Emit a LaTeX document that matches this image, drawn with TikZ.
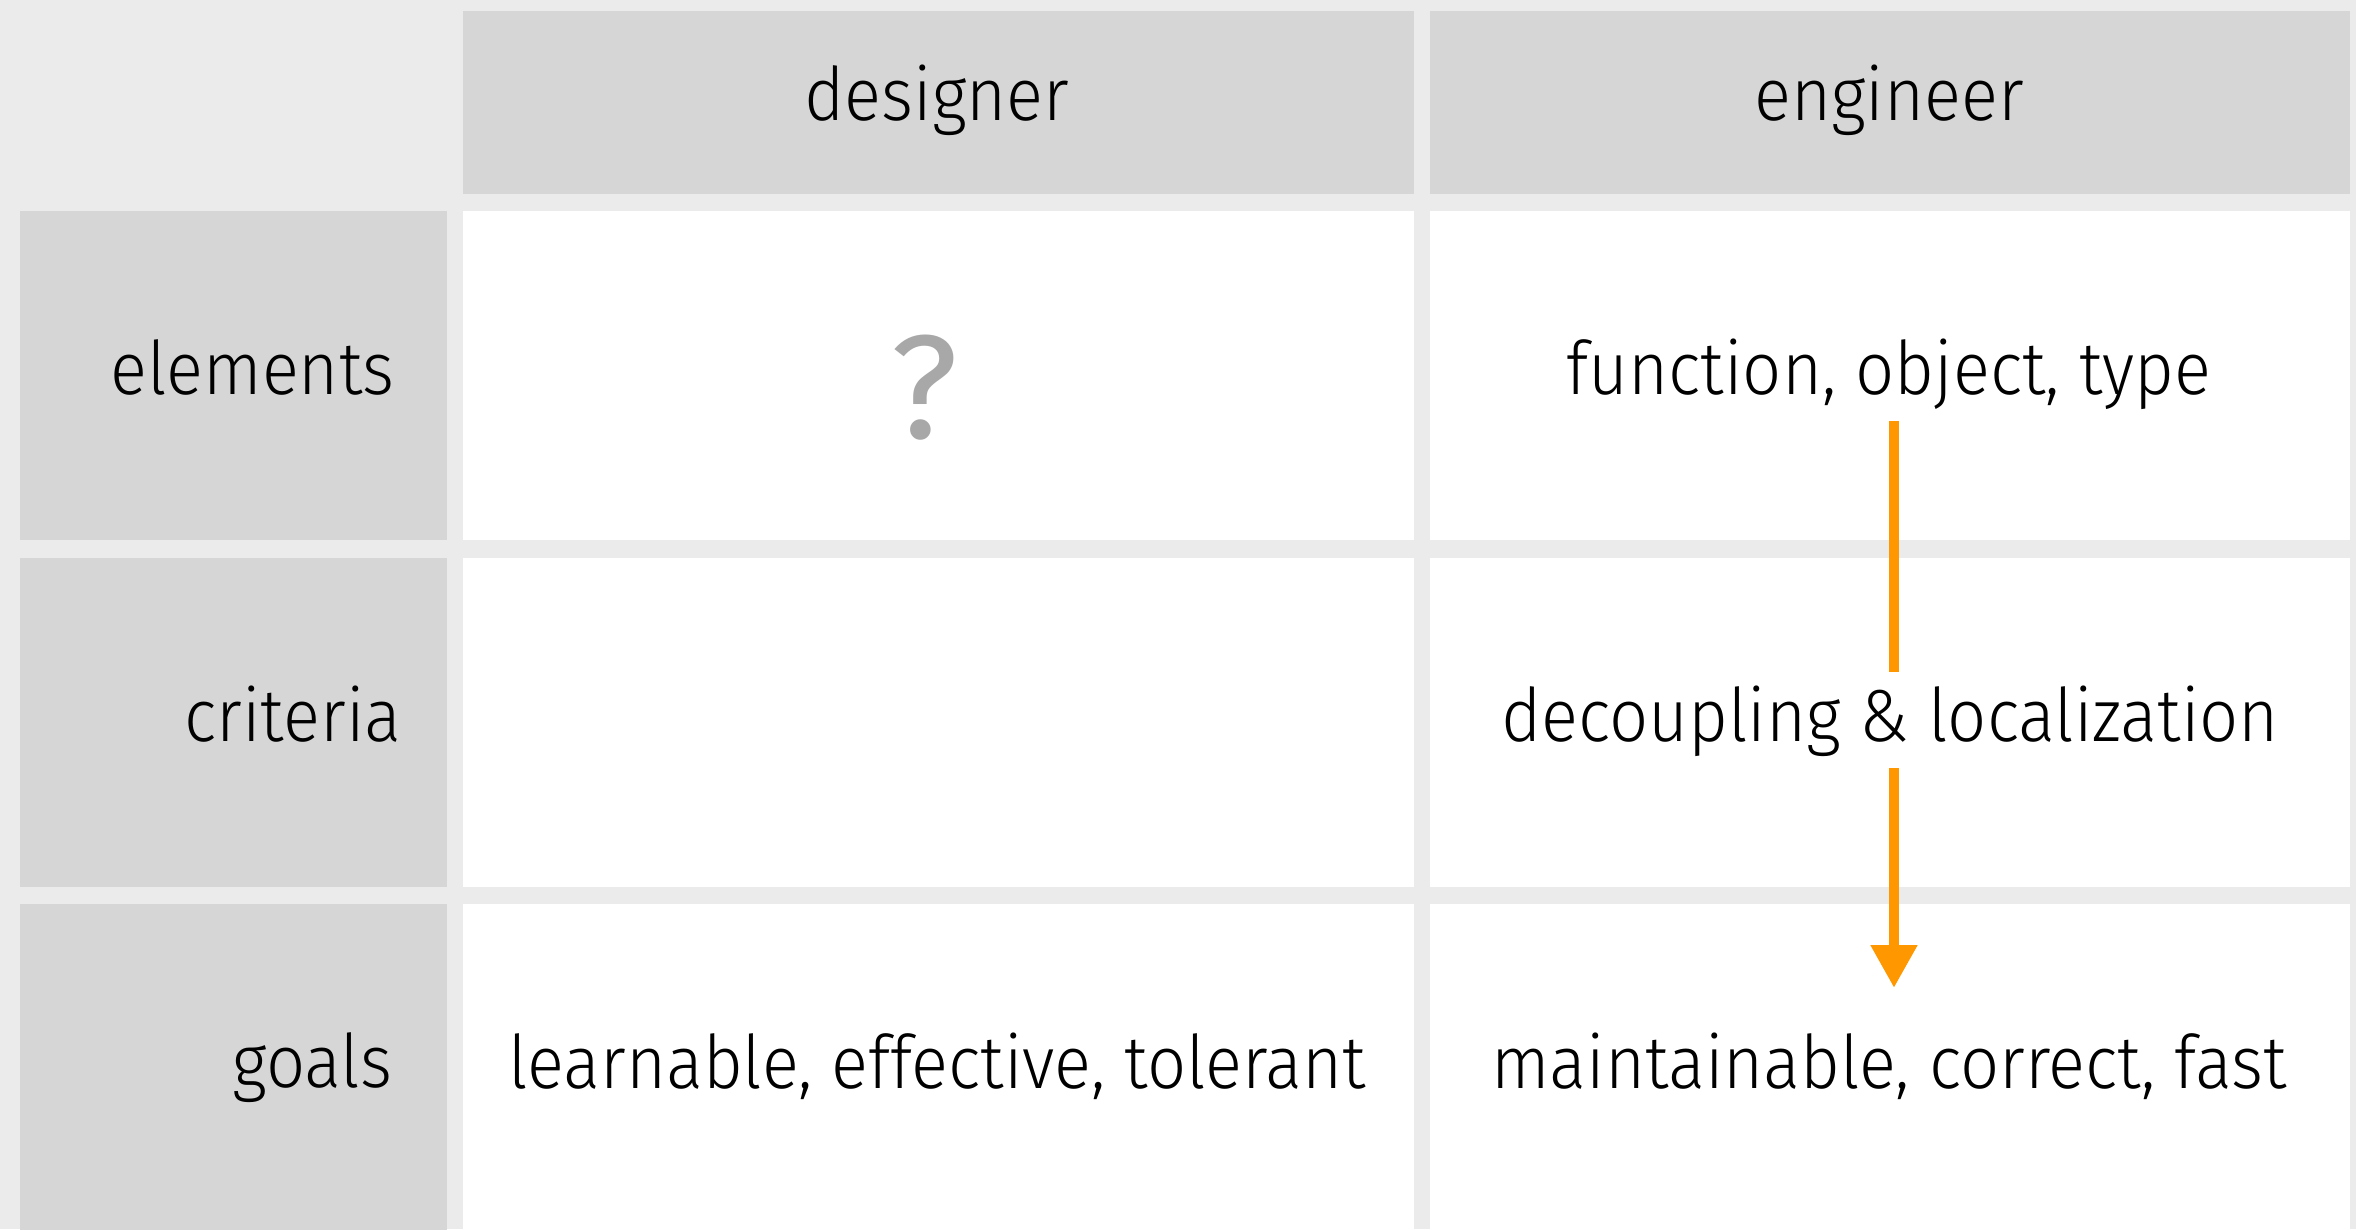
\documentclass[tikz,border=0pt]{standalone}
\usepackage{fontspec}
\setmainfont{Fira Sans Light}[FakeStretch=0.93]
\newfontfamily\questfont{Fira Sans}
\usetikzlibrary{arrows.meta,positioning,calc}
\definecolor{bggray}{HTML}{EBEBEB}
\definecolor{hdgray}{HTML}{D6D6D6}
\definecolor{qgray}{HTML}{A8A8A8}
\definecolor{flowgold}{HTML}{FF9800}
\tikzset{
    cell/.style={draw=none, inner sep=0pt, anchor=north west},
    headcell/.style={cell, fill=hdgray},
    bodycell/.style={cell, fill=white},
    txt/.style={inner sep=0pt, anchor=base, font=\fontsize{21}{25}\selectfont},
    lbl/.style={txt, anchor=base east},
    flow/.style={draw=flowgold, line width=3.1pt, shorten <=3.1pt, shorten >=3.7pt},
}

\begin{document}
\begin{tikzpicture}[x=0.01cm, y=-0.01cm]
    \fill[bggray] (0,0) rectangle (2356,1229);
    \useasboundingbox (0,0) rectangle (2356,1229);
    % header row
    \node[headcell, minimum width=9.51cm, minimum height=1.83cm] (h1) at (462,10) {};
    \node[headcell, minimum width=9.20cm, minimum height=1.83cm] (h2) at (1429,10) {};
    % row labels
    \node[headcell, minimum width=4.27cm, minimum height=3.29cm] (r1) at (19,210) {};
    \node[headcell, minimum width=4.27cm, minimum height=3.29cm] (r2) at (19,557) {};
    \node[headcell, minimum width=4.27cm, minimum height=3.26cm] (r3) at (19,903) {};
    % body cells
    \node[bodycell, minimum width=9.51cm, minimum height=3.29cm] (c11) at (462,210) {};
    \node[bodycell, minimum width=9.20cm, minimum height=3.29cm] (c12) at (1429,210) {};
    \node[bodycell, minimum width=9.51cm, minimum height=3.29cm] (c21) at (462,557) {};
    \node[bodycell, minimum width=9.20cm, minimum height=3.29cm] (c22) at (1429,557) {};
    \node[bodycell, minimum width=9.51cm, minimum height=3.26cm] (c31) at (462,903) {};
    \node[bodycell, minimum width=9.20cm, minimum height=3.26cm] (c32) at (1429,903) {};

    \node[txt] (designer) at (937,120) {designer};
    \node[txt] (engineer) at (1889,120) {engineer};
    \node[lbl] (elements) at (395,394) {elements};
    \node[lbl] (criteria) at (402,741) {criteria};
    \node[lbl] (goals) at (393,1087) {goals};

    \node[inner sep=0pt, text=qgray, font=\questfont\fontsize{42}{44}\selectfont] (quest) at (924,388) {?};
    \node[txt] (fot) at (1889,394) {function, object, type};
    \node[txt] (dec) at (1890,741) {decoupling \& localization};
    \node[txt] (learn) at (937,1088) {learnable, effective, tolerant};
    \node[txt] (maint) at (1889,1088) {maintainable, correct, fast};

    % flow arrow
    \coordinate (arrx) at (1894,0);
    \coordinate (tip) at (1894,988);
    \draw[flow] (fot.south -| arrx) -- (dec.north -| arrx);
    \draw[flow, shorten >=0pt, -{Triangle[width=12.5pt, length=12.2pt]}] (dec.south -| arrx) -- (tip);
\end{tikzpicture}
\end{document}
